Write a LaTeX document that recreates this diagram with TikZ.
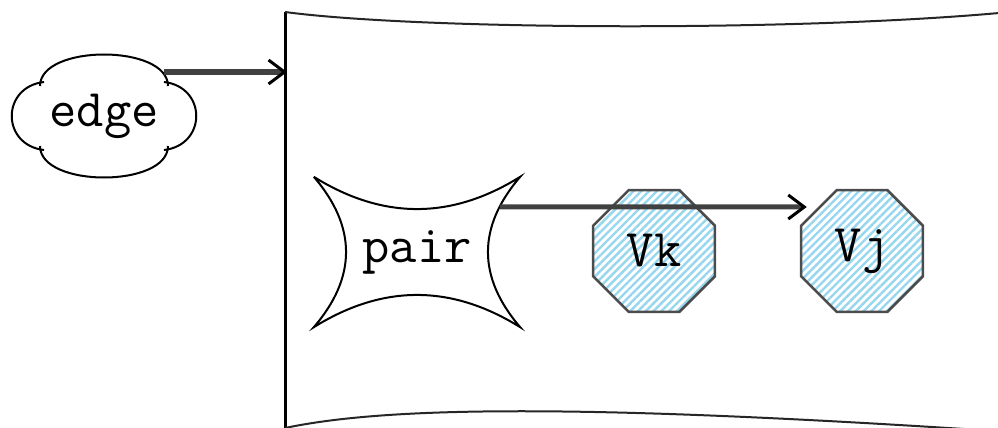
\documentclass[tikz,border=0pt]{standalone}
\usetikzlibrary{arrows.meta,patterns.meta,calc,shapes.geometric}

\definecolor{hatch}{RGB}{150,214,238}
\definecolor{wire}{RGB}{64,64,64}

\tikzset{
  lbl/.style={font=\ttfamily\fontsize{53}{58}\selectfont},
  conn/.style={wire,line width=5pt,-{Straight Barb[length=16pt,width=24pt,line width=3pt,color=black]}},
  vert/.style={lbl,regular polygon,regular polygon sides=8,minimum size=132pt,inner sep=0pt,
    draw=black!70,line width=2.5pt,pattern={Lines[angle=45,distance=5.5pt,line width=2.4pt]},pattern color=hatch},
}

\begin{document}
\begin{tikzpicture}[x=1pt,y=-1pt]
    \clip (0,0) rectangle (998,428);

    \draw[line width=3pt] (285,430) -- (285,12);
    \draw[line width=2pt,black!85] (285,12) .. controls (420,30) and (800,32) .. (1010,12);
    \draw[line width=2pt,black!85] (285,428) .. controls (380,408) and (560,402) .. (1010,432);
    \coordinate (boxin) at (287,72);

    \node[lbl,minimum width=185pt,minimum height=128pt,inner sep=0pt] (edge) at (104,116) {edge};
    \begin{scope}[shift={(edge.center)},line width=2pt]
      \draw (-60,-34) .. controls (-103,-29) and (-103,29) .. (-60,34);
      \draw (-64,-30) .. controls (-64,-72) and (64,-72) .. (64,-30);
      \draw (60,-34) .. controls (103,-29) and (103,29) .. (60,34);
      \draw (-64,30) .. controls (-64,72) and (64,72) .. (64,30);
      \coordinate (edgeout) at (60,-44);
    \end{scope}

    \node[lbl,minimum width=206pt,minimum height=150pt,inner sep=0pt] (pair) at (417,252) {pair};
    \draw[line width=2pt] (pair.north west) .. controls +(69,43) and +(-69,43) .. (pair.north east)
      .. controls +(-43,50) and +(-43,-50) .. (pair.south east)
      .. controls +(-69,-43) and +(69,-43) .. (pair.south west)
      .. controls +(43,-50) and +(43,50) .. (pair.north west);

    \node[vert] (vk) at (654,251) {Vk};
    \node[vert] (vj) at (862,251) {Vj};

    \draw[conn] (edgeout) -- (edgeout -| boxin);
    \draw[conn] ($(pair.north east)+(-20,30)$) -- ($(vj.west)+(7,-44)$);
  \end{tikzpicture}
\end{document}
